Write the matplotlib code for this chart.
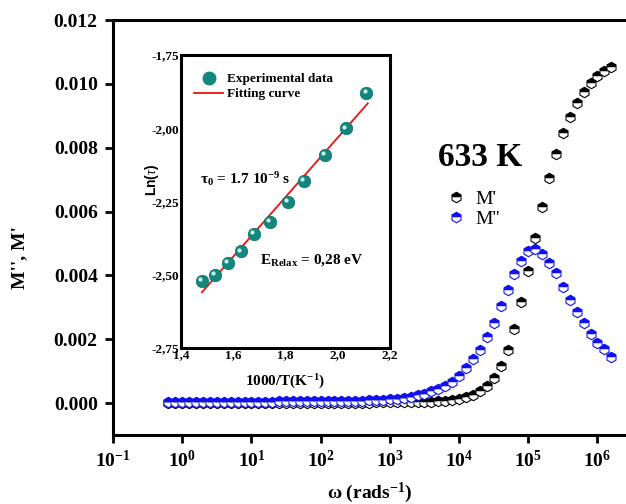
import numpy as np
import matplotlib
matplotlib.use('Agg')
import matplotlib.pyplot as plt
from matplotlib.lines import Line2D
from matplotlib.ticker import FixedLocator, FuncFormatter, NullLocator
import matplotlib.transforms as mtransforms

plt.rcParams['font.family'] = ['Liberation Serif', 'DejaVu Serif']
plt.rcParams['mathtext.fontset'] = 'custom'
plt.rcParams['mathtext.rm'] = 'Liberation Serif'
plt.rcParams['mathtext.bf'] = 'Liberation Serif:bold'
plt.rcParams['mathtext.it'] = 'Liberation Serif:italic'

## modulus spectra at 633 K
log_omega = [-0.2, -0.1, 0.0, 0.1, 0.2, 0.3, 0.4, 0.5, 0.6, 0.7, 0.8, 0.9,
             1.0, 1.1, 1.2, 1.3, 1.4, 1.5, 1.6, 1.7, 1.8, 1.9,
             2.0, 2.1, 2.2, 2.3, 2.4, 2.5, 2.6, 2.7, 2.8, 2.9,
             3.0, 3.1, 3.2, 3.3, 3.4, 3.5, 3.6, 3.7, 3.8, 3.9,
             4.0, 4.1, 4.2, 4.3, 4.4, 4.5, 4.6, 4.7, 4.8, 4.9,
             5.0, 5.1, 5.2, 5.3, 5.4, 5.5, 5.6, 5.7, 5.8, 5.9,
             6.0, 6.1, 6.2]

m_real = [0.0] * 22 + \
    [0.00000, 0.00000, 0.00000, 0.00001, 0.00001, 0.00001, 0.00001, 0.00001, 0.00002, 0.00002,
     0.00002, 0.00002, 0.00002, 0.00002, 0.00003, 0.00003, 0.00004, 0.00005, 0.00006, 0.00009,
     0.00013, 0.00018, 0.00025, 0.00037, 0.00053, 0.00077, 0.00117, 0.00166, 0.00231, 0.00317,
     0.00414, 0.00516, 0.00615, 0.00704, 0.00780, 0.00845, 0.00895, 0.00939, 0.00974, 0.01002,
     0.01024, 0.01041, 0.01054]

m_imag = [0.00003] * 8 + [0.00004] * 8 + [0.00005] * 6 + \
    [0.00005, 0.00005, 0.00006, 0.00006, 0.00007, 0.00007, 0.00008, 0.00009, 0.00010, 0.00011,
     0.00012, 0.00014, 0.00017, 0.00020, 0.00025, 0.00030, 0.00037, 0.00044, 0.00053, 0.00067,
     0.00085, 0.00109, 0.00137, 0.00167, 0.00207, 0.00252, 0.00304, 0.00354, 0.00404, 0.00444,
     0.00475, 0.00482, 0.00467, 0.00440, 0.00406, 0.00364, 0.00323, 0.00286, 0.00250, 0.00216,
     0.00189, 0.00168, 0.00145]

## Arrhenius plot of relaxation time
inv_temp = [1.48, 1.53, 1.58, 1.63, 1.68, 1.74, 1.81, 1.87, 1.95, 2.03, 2.11]
ln_tau = [-2.52, -2.50, -2.46, -2.42, -2.36, -2.32, -2.25, -2.18, -2.09, -2.00, -1.88]
fit_x = [1.48, 2.115]
fit_y = [-2.56, -1.915]

omega = 10 ** np.array(log_omega)

fig = plt.figure(figsize=(6.26, 5.04), dpi=100)
# main axes runs off the right edge on purpose
ax = fig.add_axes([113 / 626, 69 / 504, 526 / 626, 415 / 504])

mk = dict(marker='h', markersize=7.5, linestyle='none', fillstyle='top',
          markerfacecoloralt='white', markeredgewidth=0.8)
ax.plot(omega, m_real, color='black', markerfacecolor='black', markeredgecolor='black', **mk)
ax.plot(omega, m_imag, color='#1010f0', markerfacecolor='#1010f0', markeredgecolor='#1010f0', **mk)

ax.set_xscale('log')
ax.set_xlim(0.1, 10 ** 6.6)
ax.set_ylim(-0.001, 0.012)
ax.xaxis.set_major_locator(FixedLocator([10.0 ** k for k in range(-1, 7)]))
ax.xaxis.set_minor_locator(NullLocator())
ax.xaxis.set_major_formatter(FuncFormatter(lambda v, p: r'$\mathbf{10^{%d}}$' % round(np.log10(v))))
ax.set_yticks(np.arange(0, 0.0121, 0.002))
ax.yaxis.set_major_formatter(FuncFormatter(lambda v, p: f'{v:.3f}'))
ax.tick_params(direction='out', length=6, width=2, labelsize=14, pad=5)
for lab in ax.get_yticklabels():
    lab.set_fontweight('bold')
for s in ax.spines.values():
    s.set_linewidth(2.2)

fig.text(20 / 626, 1 - 258 / 504, "M'', M'", rotation=90, ha='center', va='center',
         fontsize=14, fontweight='bold')
fig.text(370 / 626, 1 - 493 / 504, r'$\mathbf{\omega\ (rads^{-1})}$', ha='center', va='center',
         fontsize=14)
fig.text(438 / 626, 1 - 158 / 504, '633 K', ha='left', va='center', fontsize=24, fontweight='bold')

handles = [Line2D([], [], color='black', markerfacecolor='black', markeredgecolor='black', **mk),
           Line2D([], [], color='#1010f0', markerfacecolor='#1010f0', markeredgecolor='#1010f0', **mk)]
ax.legend(handles, ["M'", "M''"], loc='center left', bbox_to_anchor=(435 / 626, 1 - 209 / 504),
          bbox_transform=fig.transFigure, frameon=False, fontsize=14, handletextpad=0.4,
          labelspacing=0.15, handlelength=1.2, borderpad=0)

## inset
axi = fig.add_axes([181 / 626, 156 / 504, 209 / 626, 293 / 504])
teal = '#12877d'
axi.plot(fit_x, fit_y, color='#e8140c', linewidth=1.3, zorder=2)
axi.plot(inv_temp, ln_tau, 'o', color=teal, markersize=9, markeredgecolor='#0d6e66',
         markeredgewidth=0.5, zorder=3)
shine = mtransforms.offset_copy(axi.transData, fig=fig, x=-1.2, y=1.2, units='points')
axi.plot(inv_temp, ln_tau, 'o', color='#cfeeea', markersize=3, markeredgewidth=0,
         transform=shine, zorder=4)

axi.set_xlim(1.4, 2.2)
axi.set_ylim(-2.75, -1.75)
axi.set_xticks([1.4, 1.6, 1.8, 2.0, 2.2])
axi.set_yticks([-2.75, -2.5, -2.25, -2.0, -1.75])
axi.xaxis.set_major_formatter(FuncFormatter(lambda v, p: f'{v:.1f}'.replace('.', ',')))
axi.yaxis.set_major_formatter(FuncFormatter(lambda v, p: f'{v:.2f}'.replace('.', ',')))
axi.tick_params(length=0, labelsize=9.5, pad=1)
for lab in axi.get_xticklabels() + axi.get_yticklabels():
    lab.set_fontweight('bold')
for s in axi.spines.values():
    s.set_linewidth(2.2)
axi.set_xlabel(r'$\mathbf{1000/T(K^{-1})}$', fontsize=11, labelpad=8)
fig.text(152 / 626, 1 - 180 / 504, r'Ln($\tau$)', rotation=90, ha='center', va='center',
         fontsize=10, fontweight='bold', family=['Liberation Sans', 'DejaVu Sans'])

axi.text(0.09, 0.577, r'$\mathbf{\tau_0}$' + ' = 1.7 10' + r'$\mathbf{^{-9}}$' + ' s', transform=axi.transAxes,
         fontsize=11, fontweight='bold', va='center')
axi.text(0.38, 0.30, r'$\mathbf{E_{Relax}}$' + ' = 0,28 eV', transform=axi.transAxes,
         fontsize=11, fontweight='bold', va='center')

in_handles = [Line2D([], [], marker='o', color=teal, linestyle='none', markersize=9),
              Line2D([], [], color='#e8140c', linewidth=1.3)]
axi.legend(in_handles, ['Experimental data', 'Fitting curve'], loc='upper left',
           bbox_to_anchor=(0.02, 0.97), frameon=False,
           prop={'size': 9.5, 'weight': 'bold'}, handlelength=2.2, handletextpad=0.3,
           labelspacing=0.2, borderpad=0.2)

fig.savefig('out.png', dpi=100)
